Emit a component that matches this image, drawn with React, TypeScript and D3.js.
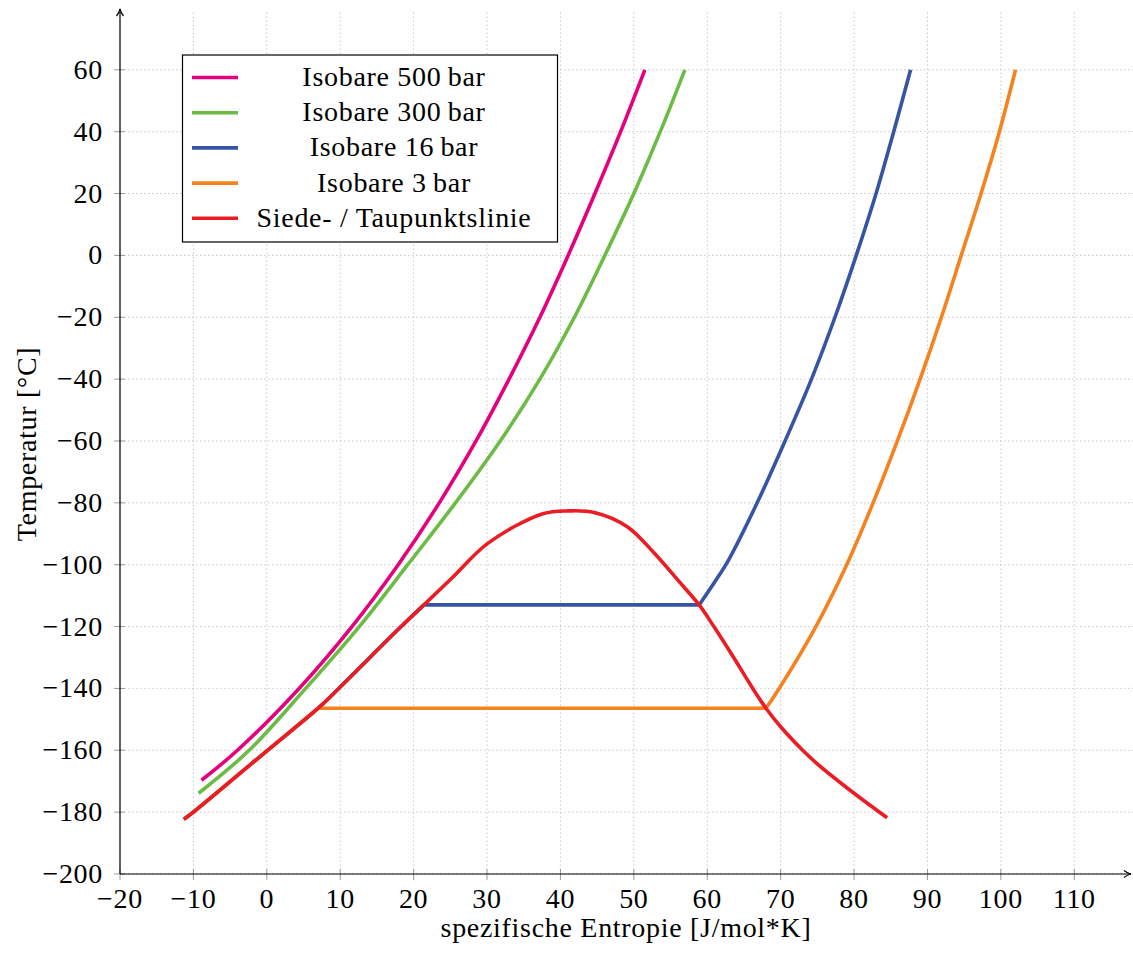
import React from "react";
import * as d3 from "d3";

// Achsen-Ticks
const xTickValues = [-20, -10, 0, 10, 20, 30, 40, 50, 60, 70, 80, 90, 100, 110];
const yTickValues = [-200, -180, -160, -140, -120, -100, -80, -60, -40, -20, 0, 20, 40, 60];

// [spezifische Entropie, Temperatur]
const isobar500: [number, number][] = [
  [-8.9, -169.7], [-4.0, -160], [4.4, -140], [11.6, -120], [17.9, -100], [23.5, -80],
  [28.5, -60], [33.0, -40], [37.2, -20], [41.05, 0], [44.7, 20], [48.2, 40], [51.5, 60],
];
const isobar300: [number, number][] = [
  [-9.3, -173.9], [-2.4, -160], [5.3, -140], [12.6, -120], [19.2, -100], [25.7, -80],
  [31.8, -60], [37.2, -40], [41.9, -20], [46.05, 0], [50.0, 20], [53.6, 40], [56.95, 60],
];
// Isobare 16 bar: Flüssigkeit, dann Verdampfung (waagerecht), dann Dampf
const isobar16Liquid: [number, number][] = [
  [-11.3, -182.3], [-10, -180], [0.1, -160], [7.0, -146.4], [9.8, -140], [18.3, -120], [21.4, -113],
];
const isobar16Vapor: [number, number][] = [
  [58.9, -113], [60.9, -106], [62.9, -98.5], [66.8, -80], [70.6, -60], [74.2, -40],
  [77.4, -20], [80.3, 0], [83.0, 20], [85.4, 40], [87.7, 60],
];
const isobar3Liquid: [number, number][] = [
  [-11.3, -182.3], [-10, -180], [0.1, -160], [7.0, -146.4],
];
const isobar3Vapor: [number, number][] = [
  [68.0, -146.4], [69.8, -140], [74.8, -120], [79.0, -100], [82.6, -80], [85.9, -60],
  [89.0, -40], [91.9, -20], [94.6, 0], [97.3, 20], [99.8, 40], [102.0, 60],
];
// Siede- / Taupunktslinie
const saturation: [number, number][] = [
  [-11.3, -182.3], [-10, -180], [0.1, -160], [7.0, -146.4], [9.8, -140], [18.3, -120],
  [21.4, -113], [25.4, -103.9], [30.1, -93.1], [37.6, -83.5],
  [41.2, -82.6], [44.6, -83.1], [49.1, -87.7], [52.8, -96.3], [56.0, -105],
  [58.9, -113], [60.9, -120], [63.6, -130], [66.2, -140], [68.0, -146.4], [70.0, -152.4],
  [73.0, -160], [74.9, -164.2], [80.0, -173.9], [84.5, -181.8],
];

const legendLabels = [
  "Isobare 500\u2009bar",
  "Isobare 300\u2009bar",
  "Isobare 16\u2009bar",
  "Isobare 3\u2009bar",
  "Siede- / Taupunktslinie",
];
const colors = ["#e5007d", "#6cbb45", "#3654a3", "#f6821f", "#ec1c24"];

const W = 1133;
const H = 954;
const FONT = "'Liberation Serif', 'DejaVu Serif', serif";
const FS = 28;
const LS = 0.7;

export default function App() {
  const x = d3.scaleLinear().domain([-20, 118]).range([120, 1133]);
  const y = d3.scaleLinear().domain([-200, 79.5]).range([874, 9.5]);
  const fmt = d3.format("d");

  const line = d3
    .line<[number, number]>()
    .x((d) => x(d[0]))
    .y((d) => y(d[1]))
    .curve(d3.curveCatmullRom.alpha(0.5));

  // Flüssigkeitsast + waagerechte Verdampfung + Dampfast
  const joined = (a: [number, number][], b: [number, number][]) =>
    (line(a) || "") + (line(b) || "").replace(/^M/, "L");

  const paths = [
    line(isobar500) || "",
    line(isobar300) || "",
    joined(isobar16Liquid, isobar16Vapor),
    joined(isobar3Liquid, isobar3Vapor),
    line(saturation) || "",
  ];

  const x0 = x(-20);
  const y0 = y(-200);
  const xEnd = 1131;
  const yTop = 9;

  return (
    <svg
      width={W}
      height={H}
      style={{ position: "absolute", left: 0, top: 0, background: "#fff" }}
      fontFamily={FONT}
    >
      {/* Gitter */}
      <g stroke="#c8c8c8" strokeWidth={1} strokeDasharray="1.5,2.5">
        {xTickValues.map((v) => (
          <line key={"gx" + v} x1={x(v)} x2={x(v)} y1={y0} y2={yTop + 2} />
        ))}
        {yTickValues.map((v) => (
          <line key={"gy" + v} x1={x0} x2={W} y1={y(v)} y2={y(v)} />
        ))}
      </g>

      {/* Ticks */}
      <g stroke="#9a9a9a" strokeWidth={1}>
        {xTickValues.map((v) => (
          <line key={"tx" + v} x1={x(v)} x2={x(v)} y1={y0 - 5} y2={y0 + 6} />
        ))}
        {yTickValues.map((v) => (
          <line key={"ty" + v} x1={x0 - 6} x2={x0 + 5} y1={y(v)} y2={y(v)} />
        ))}
      </g>

      {/* Kurven */}
      <g fill="none" strokeWidth={3.6} strokeLinejoin="round">
        {paths.map((d, i) => (
          <path key={"p" + i} d={d} stroke={colors[i]} />
        ))}
      </g>

      {/* Achsen */}
      <g stroke="#000" strokeWidth={1.2} fill="none">
        <line x1={x0} x2={xEnd} y1={y0} y2={y0} />
        <line x1={x0} x2={x0} y1={y0} y2={yTop} />
        <path d={`M${x0 - 3.5},${yTop + 7} Q${x0 - 1},${yTop + 4} ${x0},${yTop} Q${x0 + 1},${yTop + 4} ${x0 + 3.5},${yTop + 7}`} />
        <path d={`M${xEnd - 7},${y0 - 3.5} Q${xEnd - 4},${y0 - 1} ${xEnd},${y0} Q${xEnd - 4},${y0 + 1} ${xEnd - 7},${y0 + 3.5}`} />
      </g>

      {/* Tick-Beschriftungen */}
      <g fontSize={FS} letterSpacing={LS} fill="#000">
        {xTickValues.map((v) => (
          <text key={"lx" + v} x={x(v)} y={908} textAnchor="middle">
            {fmt(v)}
          </text>
        ))}
        {yTickValues.map((v) => (
          <text key={"ly" + v} x={103} y={y(v) + 9} textAnchor="end">
            {fmt(v)}
          </text>
        ))}
      </g>

      {/* Achsentitel */}
      <text x={626} y={937} fontSize={FS} letterSpacing={LS} textAnchor="middle">
        spezifische Entropie [J/mol*K]
      </text>
      <text
        transform={`translate(36,444) rotate(-90)`}
        fontSize={FS}
        letterSpacing={LS}
        textAnchor="middle"
      >
        Temperatur [°C]
      </text>

      {/* Legende */}
      <g>
        <rect x={182.5} y={55} width={375} height={187} fill="#fff" stroke="#000" strokeWidth={1.2} />
        {legendLabels.map((label, i) => {
          const ly = 77.5 + i * 35.2;
          return (
            <g key={"lg" + i}>
              <line x1={192} x2={238} y1={ly} y2={ly} stroke={colors[i]} strokeWidth={3.6} />
              <text x={394} y={ly + 8.5} fontSize={FS} letterSpacing={LS} textAnchor="middle">
                {label}
              </text>
            </g>
          );
        })}
      </g>
    </svg>
  );
}
